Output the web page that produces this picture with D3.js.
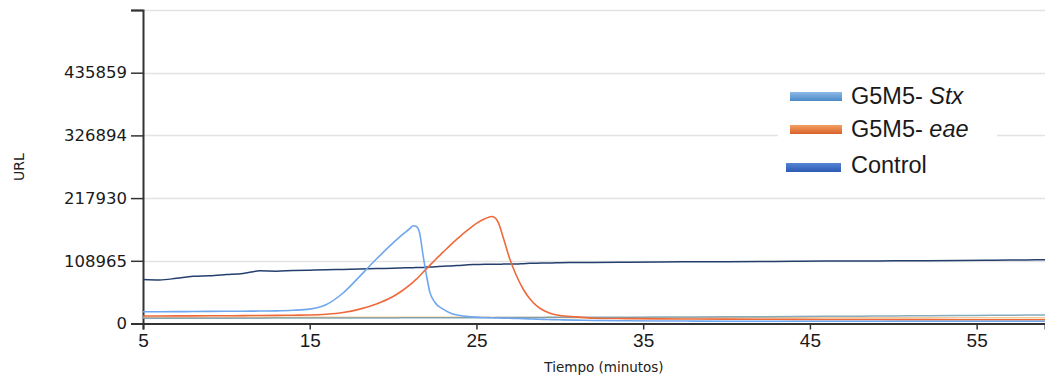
<!DOCTYPE html>
<html><head><meta charset="utf-8">
<script src="https://cdn.jsdelivr.net/npm/d3@7"></script>
<style>
html,body{margin:0;padding:0;background:#fff;}
svg{display:block;}
</style>
</head><body>
<svg id="chart" width="1045" height="377"></svg>
<script>
// ---- data ----
const times = [5,6,7,8,9,10,11,12,13,14,15,16,17,18,19,20,20.5,21,21.2,21.4,21.6,21.8,22,22.2,22.5,23,23.5,24,24.5,25,25.5,25.9,26.1,26.3,26.6,27,27.4,27.8,28.2,28.6,29,29.5,30,31,32,34,36,38,40,42,44,46,48,50,52,54,56,58,59.1];
const stx = [20400,20500,20600,20800,21000,21200,21400,21600,22000,23000,25000,33000,53000,82000,112000,140000,153000,165000,170000,168500,156000,118000,84000,55000,37000,25000,17500,14000,12000,11000,10400,10000,9800,9600,9300,9000,8700,8400,8000,7600,7200,6800,6400,5800,5300,4800,4400,4200,4000,4000,3900,3900,3800,3800,3800,3800,3800,3800,3800];
const eae = [13000,13100,13200,13300,13400,13500,13700,13900,14100,14400,14700,16000,19000,25000,34000,47000,56000,67000,72000,77000,83000,89000,95000,101000,110000,124000,138000,151000,163000,174000,182000,186000,184000,176000,150000,112000,83000,60000,43000,31000,23000,17000,14000,11500,9200,8500,8000,7800,7600,7400,7200,7000,6900,6800,6700,6600,6600,6600,6600];
const control = [76600,75800,78500,82000,83000,85000,87000,91500,91000,92000,92700,93500,94000,94500,95500,96000,96500,97000,97000,97200,97500,97500,98000,98000,98500,99500,100000,101000,102000,102500,103000,103000,103000,103000,103200,103500,103500,104000,104500,104800,105000,105200,105500,106000,106200,106500,107000,107200,107500,107800,108000,108500,108500,109000,109200,109500,110000,110500,110800];
const baseTeal = [9000,9000,9100,9100,9200,9200,9300,9300,9400,9400,9500,9500,9600,9600,9700,9700,9800,9800,9800,9800,9900,9900,9900,9900,10000,10000,10000,10100,10100,10200,10200,10200,10200,10300,10300,10400,10400,10500,10500,10600,10600,10700,10700,10800,10900,11000,11200,11400,11600,11900,12200,12500,12800,13100,13500,13900,14200,14600,14700];
const basePeach = [10500,10500,10500,10600,10600,10600,10700,10700,10700,10800,10800,10800,10900,10900,10900,10900,10900,10900,10900,10900,10900,10900,10900,10900,10900,10900,10800,10800,10800,10700,10700,10700,10700,10600,10600,10600,10500,10500,10500,10400,10400,10300,10300,10200,10200,10100,10100,10000,10000,10000,10000,10000,10000,10000,10000,10000,10000,10000,10000];
const xTicks = [5,15,25,35,45,55];
const yTickValues = [0,108965,217930,326894,435859,544824];
const yTickLabels = ["0","108965","217930","326894","435859",""];
const legendLabels = [["G5M5- ","Stx"],["G5M5- ","eae"],["Control",""]];

// ---- chart ----
const svg = d3.select("#chart");
const x = d3.scaleLinear().domain([5, 59.1]).range([143, 1045]);
const y = d3.scaleLinear().domain([0, 544824]).range([323.5, 10]);

// grid
svg.append("g").selectAll("line").data(yTickValues.slice(1)).join("line")
  .attr("x1", 143).attr("x2", 1045)
  .attr("y1", d => Math.round(y(d)) + 0.5).attr("y2", d => Math.round(y(d)) + 0.5)
  .attr("stroke", "#e3e3e3").attr("stroke-width", 1.5);

// y axis
const yAxis = d3.axisLeft(y).tickValues(yTickValues)
  .tickFormat((d, i) => yTickLabels[i]).tickSize(12).tickPadding(4);
const gy = svg.append("g").attr("transform", "translate(143,0)").call(yAxis);
gy.select(".domain").attr("stroke", "#333").attr("stroke-width", 2);
gy.selectAll(".tick line").attr("stroke", "#333").attr("stroke-width", 1.5);
gy.selectAll(".tick text").attr("font-family", "DejaVu Sans, Verdana, sans-serif")
  .attr("font-size", 16.5).attr("fill", "#1a1a1a");

// series
const series = [
  {v: basePeach, c: "#f3c48f", w: 1.5, o: 0.9},
  {v: baseTeal, c: "#5f8fa3", w: 1.5, o: 0.75},
  {v: control, c: "#243f6e", w: 1.5, o: 1},
  {v: eae, c: "#ef6a3b", w: 1.6, o: 1},
  {v: stx, c: "#6ea7ef", w: 1.6, o: 1}
];
const line = d3.line().x((d, i) => x(times[i])).y(d => y(d)).curve(d3.curveMonotoneX);
svg.append("g").selectAll("path").data(series).join("path")
  .attr("d", s => line(s.v)).attr("fill", "none")
  .attr("stroke", s => s.c).attr("stroke-width", s => s.w).attr("stroke-opacity", s => s.o);

// x axis
const xAxis = d3.axisBottom(x).tickValues(xTicks).tickFormat(d3.format("d")).tickSize(6).tickPadding(4);
const gx = svg.append("g").attr("transform", "translate(0,323.5)").call(xAxis);
gx.select(".domain").attr("stroke", "#333").attr("stroke-width", 2);
gx.selectAll(".tick line").attr("stroke", "#333").attr("stroke-width", 1.5);
gx.selectAll(".tick text").attr("font-family", "Liberation Sans, Arial, sans-serif")
  .attr("font-size", 19).attr("fill", "#1a1a1a");

// axis titles
svg.append("text").attr("x", 604).attr("y", 372).attr("text-anchor", "middle")
  .attr("font-family", "DejaVu Sans, Verdana, sans-serif").attr("font-size", 13.5)
  .attr("fill", "#222").text("Tiempo (minutos)");
svg.append("text").attr("transform", "translate(24,167) rotate(-90)").attr("text-anchor", "middle")
  .attr("font-family", "DejaVu Sans, Verdana, sans-serif").attr("font-size", 14)
  .attr("fill", "#222").text("URL");

// legend
const defs = svg.append("defs");
const grads = [["gStx", "#8dbbe8", "#4a88c6"], ["gEae", "#f4a060", "#d8612a"], ["gCtl", "#5583d4", "#2d5ab2"]];
grads.forEach(g => {
  const lg = defs.append("linearGradient").attr("id", g[0]).attr("x1", 0).attr("x2", 0).attr("y1", 0).attr("y2", 1);
  lg.append("stop").attr("offset", "0%").attr("stop-color", g[1]);
  lg.append("stop").attr("offset", "100%").attr("stop-color", g[2]);
});
svg.append("rect").attr("x", 778).attr("y", 78).attr("width", 219).attr("height", 108).attr("fill", "#fff");
const legY = [96.5, 129.5, 167.5];
const legX = [[790, 52], [790, 52], [786, 55]];
const legBase = [104, 137, 173];
const lg = svg.append("g");
legendLabels.forEach((lab, i) => {
  lg.append("rect").attr("x", legX[i][0]).attr("y", legY[i] - 4.5).attr("width", legX[i][1]).attr("height", 9)
    .attr("fill", `url(#${grads[i][0]})`);
  const t = lg.append("text").attr("x", 851).attr("y", legBase[i])
    .attr("font-family", "Liberation Sans, Arial, sans-serif").attr("font-size", 23.5).attr("fill", "#1a1a1a");
  t.append("tspan").text(lab[0]);
  if (lab[1]) t.append("tspan").attr("font-style", "italic").text(lab[1]);
});
</script>
</body></html>
